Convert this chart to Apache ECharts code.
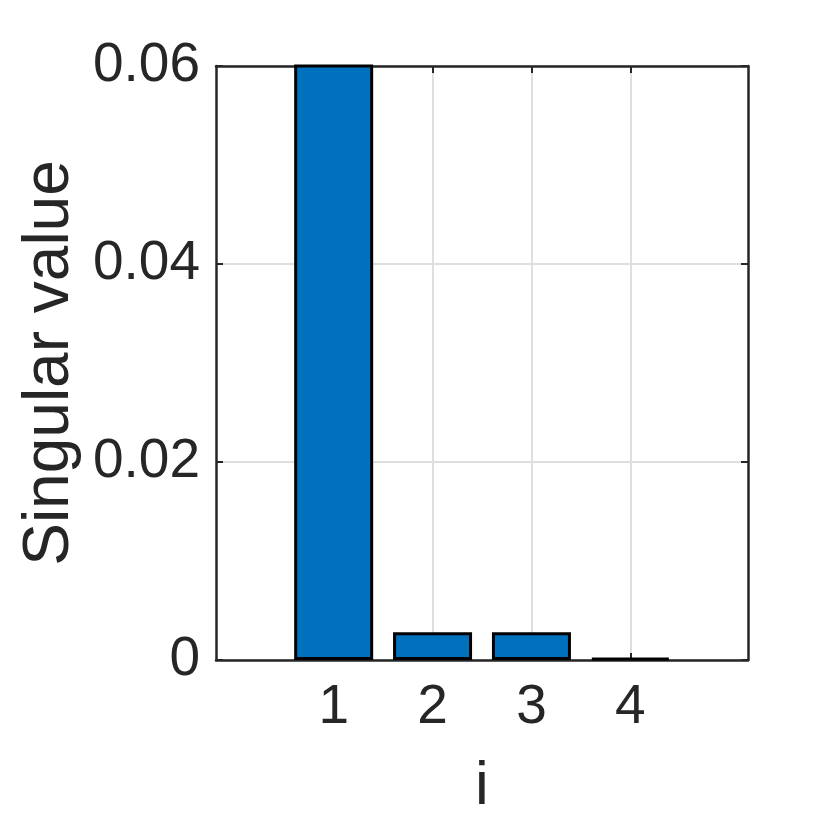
<!DOCTYPE html>
<html style="height:100%;">
<head>
    <meta charset="utf-8">
    <script src="https://cdn.jsdelivr.net/npm/echarts@6/dist/echarts.min.js"></script>
</head>
<body style="height:100%;margin:0;">
    <div id="main" style="width:830px;height:830px;"></div>
</body>
</html>
<script>
    // 奇异值
    var idx = [1, 2, 3, 4];
    var sv = [0.09, 0.0028, 0.0028, 0.0002];
    var yTicks = [0, 0.02, 0.04, 0.06];

    var font = 'Liberation Sans';
    var dark = '#262626';

    var myChart = echarts.init(document.getElementById('main'));
    var tickX = {show: true, inside: true, length: 7, customValues: idx, lineStyle: {color: dark, width: 2}};
    var tickY = {show: true, inside: true, length: 7, lineStyle: {color: dark, width: 2}};
    var line = {show: true, onZero: false, lineStyle: {color: dark, width: 2.5}};
    var option = {
        animation: false,
        backgroundColor: '#fff',
        grid: {left: 216, right: 82, top: 66, bottom: 170},
        xAxis: [
            {
                type: 'value', min: -0.19, max: 5.19,
                name: 'i', nameLocation: 'middle', nameGap: 96,
                nameTextStyle: {fontFamily: font, fontSize: 62, color: dark},
                axisLine: line,
                axisTick: tickX,
                axisLabel: {customValues: idx, margin: 20, fontFamily: font, fontSize: 55, color: dark},
                splitLine: {show: false}
            },
            {
                type: 'value', min: -0.19, max: 5.19, position: 'top',
                axisLine: line,
                axisTick: tickX,
                axisLabel: {show: false},
                splitLine: {show: false}
            }
        ],
        yAxis: [
            {
                type: 'value', min: 0, max: 0.06, interval: 0.02,
                name: 'Singular value', nameLocation: 'middle', nameGap: 120,
                nameTextStyle: {fontFamily: font, fontSize: 64, color: dark},
                axisLine: line,
                axisTick: tickY,
                axisLabel: {margin: 16, fontFamily: font, fontSize: 55, color: dark,
                    formatter: function (v) { return yTicks.indexOf(v) >= 0 ? String(v) : ''; }},
                splitLine: {show: true, lineStyle: {color: '#dfdfdf', width: 2}}
            },
            {
                type: 'value', min: 0, max: 0.06, interval: 0.02, position: 'right',
                axisLine: line,
                axisTick: tickY,
                axisLabel: {show: false},
                splitLine: {show: false}
            }
        ],
        series: [
            {
                // 竖向网格线
                type: 'line', data: [], silent: true,
                markLine: {
                    silent: true, symbol: 'none', label: {show: false}, z: 0,
                    lineStyle: {color: '#dfdfdf', width: 2, type: 'solid'},
                    data: idx.map(function (v) { return {xAxis: v}; })
                }
            },
            {
                type: 'bar',
                barWidth: 79,
                clip: true,
                data: idx.map(function (v, i) { return [v, sv[i]]; }),
                itemStyle: {color: '#0072BD', borderColor: '#000', borderWidth: 3}
            }
        ]
    };
    myChart.setOption(option);
</script>
